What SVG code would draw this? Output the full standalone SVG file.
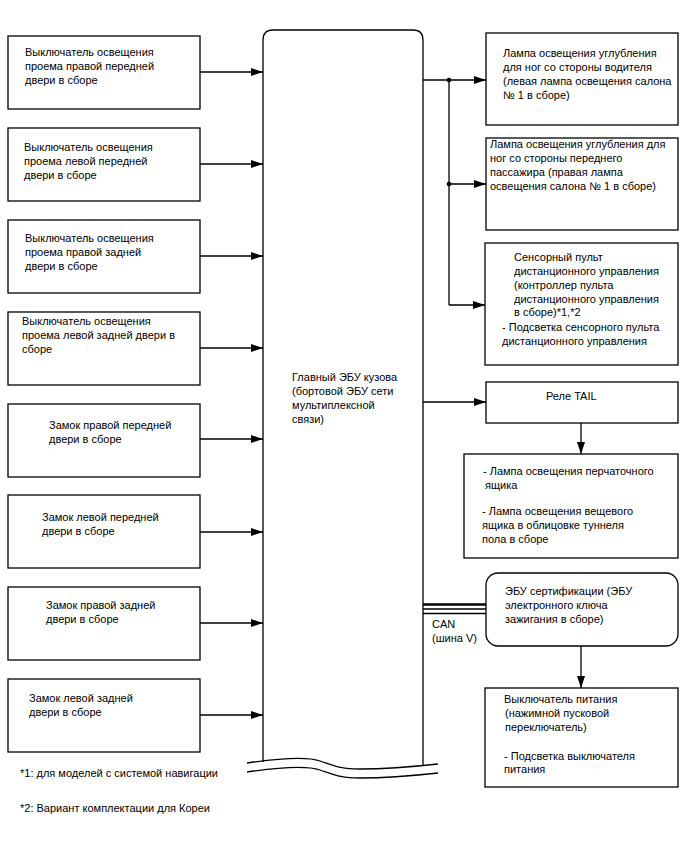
<svg xmlns="http://www.w3.org/2000/svg" width="688" height="852" viewBox="0 0 688 852">
<defs>
<marker id="ah" markerUnits="userSpaceOnUse" markerWidth="13" markerHeight="9" refX="12" refY="4" orient="auto">
<path d="M0,0 L12,4 L0,8 Z" fill="#000"/>
</marker>
</defs>
<style>
.box{fill:#fff;stroke:#000;stroke-width:1.3}
.ln{fill:none;stroke:#000;stroke-width:1.3}
.ar{fill:none;stroke:#000;stroke-width:1.3;marker-end:url(#ah)}
text{font-family:"Liberation Sans",Arial,sans-serif;font-size:11px;fill:#000}
</style>
<rect width="688" height="852" fill="#fff"/>

<g id="ecu">
<path class="ln" d="M263,762 V40 Q263,30 273,30 H413 Q423,30 423,40 V765"/>
<path class="ln" d="M247,763 C275,759 305,756 320,761 C335,766 340,769 360,769 C390,769 420,766 438,764"/>
<path class="ln" d="M247,772 C275,768 305,765 320,770 C335,775 340,778 360,778 C390,778 420,775 438,773"/>
<text x="292" y="381">Главный ЭБУ кузова</text>
<text x="292" y="395">(бортовой ЭБУ сети</text>
<text x="292" y="409">мультиплексной</text>
<text x="292" y="423">связи)</text>
</g>

<g id="l1"><rect class="box" x="8" y="36" width="192" height="73"/>
<text x="25" y="56">Выключатель освещения</text><text x="25" y="70">проема правой передней</text><text x="25" y="84">двери в сборе</text></g>
<g id="l2"><rect class="box" x="8" y="128" width="192" height="73"/>
<text x="24" y="151">Выключатель освещения</text><text x="24" y="165">проема левой передней</text><text x="24" y="179">двери в сборе</text></g>
<g id="l3"><rect class="box" x="8" y="220" width="192" height="73"/>
<text x="25" y="242">Выключатель освещения</text><text x="25" y="256">проема правой задней</text><text x="25" y="270">двери в сборе</text></g>
<g id="l4"><rect class="box" x="8" y="312" width="192" height="73"/>
<text x="22" y="325">Выключатель освещения</text><text x="22" y="339">проема левой задней двери в</text><text x="22" y="353">сборе</text></g>
<g id="l5"><rect class="box" x="8" y="404" width="192" height="73"/>
<text x="49" y="429">Замок правой передней</text><text x="49" y="443">двери в сборе</text></g>
<g id="l6"><rect class="box" x="8" y="495" width="192" height="73"/>
<text x="42" y="521">Замок левой передней</text><text x="42" y="535">двери в сборе</text></g>
<g id="l7"><rect class="box" x="8" y="587" width="192" height="73"/>
<text x="46" y="609">Замок правой задней</text><text x="46" y="623">двери в сборе</text></g>
<g id="l8"><rect class="box" x="8" y="679" width="192" height="73"/>
<text x="29" y="702">Замок левой задней</text><text x="29" y="716">двери в сборе</text></g>

<g id="r1"><rect class="box" x="486" y="33" width="192" height="92"/>
<text x="503" y="57">Лампа освещения углубления</text><text x="503" y="71">для ног со стороны водителя</text><text x="503" y="85">(левая лампа освещения салона</text><text x="503" y="99">№ 1 в сборе)</text></g>
<g id="r2"><rect class="box" x="486" y="138" width="192" height="92"/>
<text x="490" y="148">Лампа освещения углубления для</text><text x="490" y="162">ног со стороны переднего</text><text x="490" y="176">пассажира (правая лампа</text><text x="490" y="190">освещения салона № 1 в сборе)</text></g>
<g id="r3"><rect class="box" x="485" y="243" width="193" height="122"/>
<text x="514" y="261">Сенсорный пульт</text><text x="514" y="275">дистанционного управления</text><text x="514" y="289">(контроллер пульта</text><text x="514" y="303">дистанционного управления</text><text x="514" y="316">в сборе)*1,*2</text>
<text x="502" y="331">- Подсветка сенсорного пульта</text><text x="502" y="345">дистанционного управления</text></g>
<g id="tail"><rect class="box" x="486" y="382" width="192" height="41"/>
<text x="546" y="400">Реле TAIL</text></g>
<g id="lamps"><rect class="box" x="464" y="454" width="214" height="104"/>
<text x="483" y="475"> - Лампа освещения перчаточного</text><text x="485" y="489">ящика</text>
<text x="482" y="515">- Лампа освещения вещевого</text><text x="482" y="529">ящика в облицовке туннеля</text><text x="482" y="543">пола в сборе</text></g>
<g id="cert"><rect class="box" x="486" y="573" width="192" height="73" rx="12" ry="12"/>
<text x="505" y="595">ЭБУ сертификации (ЭБУ</text><text x="505" y="609">электронного ключа</text><text x="505" y="623">зажигания в сборе)</text></g>
<g id="power"><rect class="box" x="485" y="688" width="193" height="99"/>
<text x="504" y="703">Выключатель питания</text><text x="505" y="717">(нажимной пусковой</text><text x="505" y="731">переключатель)</text>
<text x="504" y="760">- Подсветка выключателя</text><text x="504" y="773">питания</text></g>

<g id="notes">
<text x="20" y="777">*1: для моделей с системой навигации</text>
<text x="20" y="812">*2: Вариант комплектации для Кореи</text>
</g>

<g id="connectors">
<path class="ar" d="M200,72 H263"/>
<path class="ar" d="M200,164 H263"/>
<path class="ar" d="M200,256 H263"/>
<path class="ar" d="M200,348 H263"/>
<path class="ar" d="M200,439 H263"/>
<path class="ar" d="M200,532 H263"/>
<path class="ar" d="M200,623 H263"/>
<path class="ar" d="M200,715 H263"/>
<path class="ln" d="M423,80 H449 V305"/>
<path class="ar" d="M449,80 H486"/>
<path class="ar" d="M449,184 H486"/>
<path class="ar" d="M449,305 H485"/>
<circle cx="449" cy="80" r="2.3" fill="#000"/>
<circle cx="449" cy="184" r="2.3" fill="#000"/>
<path class="ar" d="M423,402 H486"/>
<path class="ar" d="M581,423 V454"/>
<path class="ar" d="M581,646 V688"/>
<path fill="none" stroke="#000" stroke-width="2.6" d="M423,604.5 H486"/>
<path class="ln" d="M423,609 H486"/>
<path class="ln" d="M423,613.5 H486"/>
<text x="432" y="628">CAN</text>
<text x="432" y="642">(шина V)</text>
</g>
</svg>
